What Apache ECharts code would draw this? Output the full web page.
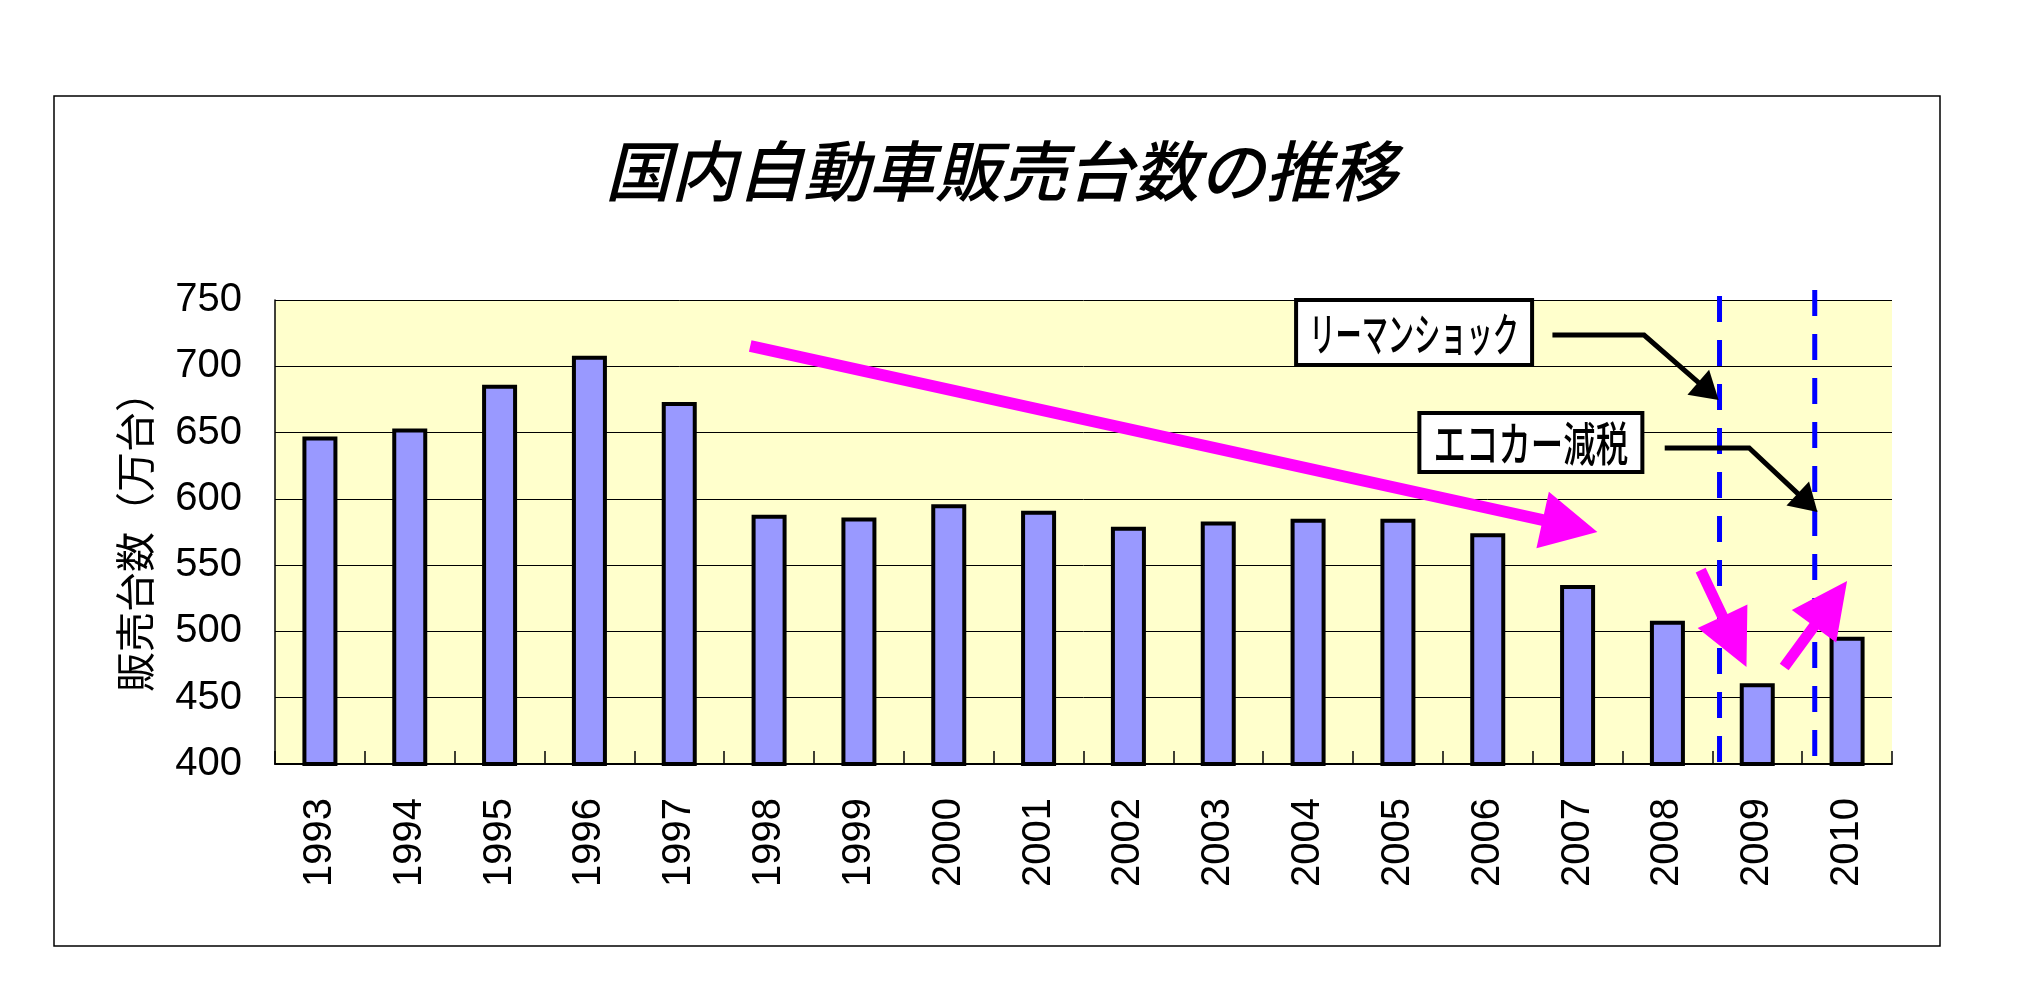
<!DOCTYPE html>
<html>
<head>
<meta charset="utf-8">
<script src="https://cdn.jsdelivr.net/npm/echarts@6/dist/echarts.min.js"></script>
<style>
html,body{margin:0;padding:0;background:#fff;}
#chart{width:2017px;height:990px;}
</style>
</head>
<body>
<div id="chart"></div>
<script>
// ---- data ----
const years = ['1993','1994','1995','1996','1997','1998','1999','2000','2001','2002','2003','2004','2005','2006','2007','2008','2009','2010'];
const sales = [647, 653, 686, 708, 673, 588, 586, 596, 591, 579, 583, 585, 585, 574, 535, 508, 461, 496];
const yMin = 400, yMax = 750, yStep = 50;
const titleText = '国内自動車販売台数の推移';
const yName = '販売台数（万台）';

// annotations in data units (x: category units, category i spans [i, i+1]; y: 万台)
const trendArrows = [[5.29, 715.3, 14.72, 575.0], [15.87, 546.3, 16.38, 473.2], [16.80, 473.2, 17.50, 538.0]];
const eventLines = [[16.08, 753.0, 399.2], [17.14, 757.6, 403.8]];
const calloutPaths = [[14.22, 723.6, 15.24, 723.6, 16.07, 674.6], [15.47, 638.4, 16.41, 638.4, 17.17, 590.1]];
const calloutBoxes = [[12.68, 725.5], [13.98, 642.5]];
const calloutLabels = ['リーマンショック', 'エコカー減税'];

// ---- drawing helpers ----
function arrowPoly(p0, p1, shaft, headLen, headW) {
  const dx = p1[0] - p0[0], dy = p1[1] - p0[1];
  const len = Math.hypot(dx, dy);
  const ux = dx / len, uy = dy / len, nx = -uy, ny = ux;
  const bx = p1[0] - ux * headLen, by = p1[1] - uy * headLen;
  return [
    [p0[0] + nx * shaft / 2, p0[1] + ny * shaft / 2],
    [bx + nx * shaft / 2, by + ny * shaft / 2],
    [bx + nx * headW / 2, by + ny * headW / 2],
    [p1[0], p1[1]],
    [bx - nx * headW / 2, by - ny * headW / 2],
    [bx - nx * shaft / 2, by - ny * shaft / 2],
    [p0[0] - nx * shaft / 2, p0[1] - ny * shaft / 2]
  ];
}

const boxSizes = [[236, 65], [223, 59]];
const boxFont = [[46, 0.57], [47, 0.69]];

const chart = echarts.init(document.getElementById('chart'), null, {renderer: 'canvas'});
chart.setOption({
  animation: false,
  backgroundColor: '#ffffff',
  title: {
    text: titleText,
    left: 996,
    top: 133,
    textAlign: 'center',
    textStyle: {
      fontFamily: '"Noto Sans CJK JP", sans-serif',
      fontStyle: 'italic',
      fontWeight: 500,
      fontSize: 66,
      color: '#000'
    }
  },
  graphic: [{
    type: 'rect',
    shape: {x: 54, y: 96, width: 1886, height: 850},
    style: {fill: null, stroke: '#000', lineWidth: 1.5},
    z: -10
  }],
  grid: {
    left: 275, right: 125, top: 300, bottom: 226,
    show: true, backgroundColor: '#FFFFCC', borderWidth: 0,
    containLabel: false, outerBoundsMode: 'none'
  },
  xAxis: [{
    type: 'category',
    data: years,
    axisLine: {lineStyle: {color: '#000', width: 2}},
    axisTick: {show: true, inside: true, length: 13, lineStyle: {color: '#000', width: 1.5}},
    axisLabel: {
      rotate: 90, margin: 34, color: '#000', fontSize: 40,
      fontFamily: '"Liberation Sans", Arial, sans-serif', interval: 0
    },
    splitLine: {show: false}
  }, {
    type: 'value', min: 0, max: 18, show: false, gridIndex: 0
  }],
  yAxis: {
    type: 'value', min: yMin, max: yMax, interval: yStep,
    name: yName, nameLocation: 'middle', nameRotate: 90, nameGap: 120,
    nameTextStyle: {fontSize: 40, color: '#000', fontFamily: '"Noto Sans CJK JP", sans-serif'},
    axisLine: {show: true, lineStyle: {color: '#000', width: 1.5}},
    axisTick: {show: false},
    axisLabel: {margin: 33, color: '#000', fontSize: 40, fontFamily: '"Liberation Sans", Arial, sans-serif'},
    splitLine: {show: true, lineStyle: {color: '#000', width: 1}}
  },
  series: [{
    type: 'bar',
    data: sales,
    barWidth: 35,
    itemStyle: {color: '#9999FF', borderColor: '#000', borderWidth: 4},
    z: 2
  }, {
    type: 'custom',
    xAxisIndex: 1,
    data: eventLines,
    z: 3,
    renderItem: function (params, api) {
      const a = api.coord([api.value(0), api.value(1)]);
      const b = api.coord([api.value(0), api.value(2)]);
      return {
        type: 'line',
        shape: {x1: a[0], y1: a[1], x2: b[0], y2: b[1]},
        style: {stroke: '#0000FF', lineWidth: 5, lineDash: [26, 18]}
      };
    }
  }, {
    type: 'custom',
    xAxisIndex: 1,
    data: trendArrows,
    z: 4,
    renderItem: function (params, api) {
      const p0 = api.coord([api.value(0), api.value(1)]);
      const p1 = api.coord([api.value(2), api.value(3)]);
      const big = params.dataIndex === 0;
      return {
        type: 'polygon',
        shape: {points: arrowPoly(p0, p1, big ? 12 : 11, 56, big ? 58 : 55)},
        style: {fill: '#FF00FF', stroke: null}
      };
    }
  }, {
    type: 'custom',
    xAxisIndex: 1,
    data: calloutPaths,
    z: 5,
    renderItem: function (params, api) {
      const p0 = api.coord([api.value(0), api.value(1)]);
      const p1 = api.coord([api.value(2), api.value(3)]);
      const p2 = api.coord([api.value(4), api.value(5)]);
      const dx = p2[0] - p1[0], dy = p2[1] - p1[1];
      const len = Math.hypot(dx, dy);
      const ux = dx / len, uy = dy / len, nx = -uy, ny = ux;
      const L = 27, W = 33;
      const bx = p2[0] - ux * L, by = p2[1] - uy * L;
      return {
        type: 'group',
        children: [{
          type: 'polyline',
          shape: {points: [p0, p1, [bx + ux * 2, by + uy * 2]]},
          style: {stroke: '#000', lineWidth: 5, fill: null, lineJoin: 'miter'}
        }, {
          type: 'polygon',
          shape: {points: [[bx + nx * W / 2, by + ny * W / 2], p2, [bx - nx * W / 2, by - ny * W / 2]]},
          style: {fill: '#000'}
        }]
      };
    }
  }, {
    type: 'custom',
    xAxisIndex: 1,
    data: calloutBoxes,
    z: 6,
    renderItem: function (params, api) {
      const c = api.coord([api.value(0), api.value(1)]);
      const i = params.dataIndex;
      const w = boxSizes[i][0], h = boxSizes[i][1];
      return {
        type: 'group',
        children: [{
          type: 'rect',
          shape: {x: c[0] - w / 2, y: c[1] - h / 2, width: w, height: h},
          style: {fill: '#fff', stroke: '#000', lineWidth: 4}
        }, {
          type: 'text',
          x: c[0], y: c[1] + 1,
          scaleX: boxFont[i][1],
          style: {
            text: calloutLabels[i], x: 0, y: 0,
            align: 'center', verticalAlign: 'middle',
            font: '500 ' + boxFont[i][0] + 'px "Noto Sans CJK JP", sans-serif',
            fill: '#000'
          }
        }]
      };
    }
  }]
});
</script>
</body>
</html>
